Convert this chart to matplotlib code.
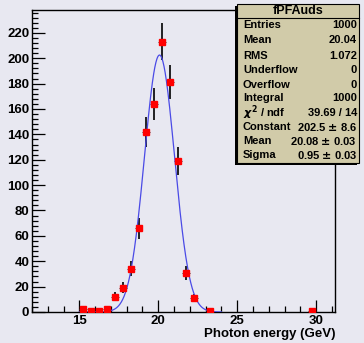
import numpy as np
import matplotlib
matplotlib.use("Agg")
import matplotlib.pyplot as plt
from matplotlib.patches import Rectangle
from matplotlib.ticker import MultipleLocator

plt.rcParams['font.family'] = ['Liberation Sans', 'DejaVu Sans']
plt.rcParams['font.weight'] = 'bold'

# histogram bin centres and counts
centers = [15.25, 15.75, 16.25, 16.75, 17.25, 17.75, 18.25, 18.75, 19.25,
           19.75, 20.25, 20.75, 21.25, 21.75, 22.25, 23.25, 29.75]
counts = [2, 1, 1, 2, 12, 19, 34, 66, 142, 164, 213, 181, 119, 31, 11, 1, 1]

# gaussian fit parameters
fit_const = 202.5
fit_mean = 20.08
fit_sigma = 0.95

stat_labels = ["Entries", "Mean", "RMS", "Underflow", "Overflow", "Integral",
               r"$\chi^2$ / ndf", "Constant", "Mean", "Sigma"]
stat_values = ["1000", "20.04", "1.072", "0", "0", "1000", "39.69 / 14",
               r"202.5 $\pm$ 8.6", r"20.08 $\pm$ 0.03", r"0.95 $\pm$ 0.03"]

W, H = 364, 343
bg = '#e8e8f1'
fig = plt.figure(figsize=(W / 100, H / 100), dpi=100)
fig.patch.set_facecolor(bg)
ax = fig.add_axes([32 / W, 1 - 312 / H, (335 - 32) / W, (312 - 10) / H])
ax.set_facecolor(bg)

c = np.array(counts, dtype=float)
ax.errorbar(centers, counts, xerr=0.25, fmt='none',
            ecolor='#333333', elinewidth=0.7, capsize=0, zorder=2)
ax.errorbar(centers, counts, yerr=np.sqrt(c), fmt='none',
            ecolor='black', elinewidth=1.2, capsize=0, zorder=2)
ax.plot(centers, counts, 's', color='red', markersize=3.8, zorder=4)

xs = np.linspace(15.0, 24.0, 400)
ax.plot(xs, fit_const * np.exp(-0.5 * ((xs - fit_mean) / fit_sigma) ** 2),
        color='#4a4ae6', lw=0.9, zorder=3)

ax.set_xlim(12, 31.2)
ax.set_ylim(0, 238)
ax.xaxis.set_major_locator(MultipleLocator(5))
ax.xaxis.set_minor_locator(MultipleLocator(1))
ax.yaxis.set_major_locator(MultipleLocator(20))
ax.yaxis.set_minor_locator(MultipleLocator(4))
ax.tick_params(which='both', direction='in', top=False, right=False,
               labelsize=9.5, width=0.9, pad=2)
ax.tick_params(which='major', length=9)
ax.tick_params(which='minor', length=4.5)
for lab in ax.get_xticklabels() + ax.get_yticklabels():
    lab.set_fontweight('bold')
for s in ax.spines.values():
    s.set_linewidth(1)
ax.set_xlabel("Photon energy (GeV)", fontsize=9.5, fontweight='bold',
              loc='right', labelpad=1)

# stats box
bx0, by0, bx1, by1 = 237, 4, 359, 163
fig.patches.append(Rectangle((bx0 / W - 2 / W, 1 - by1 / H - 2 / H),
                             (bx1 - bx0) / W, (by1 - by0) / H,
                             transform=fig.transFigure, facecolor='black',
                             edgecolor='none', zorder=5))
fig.patches.append(Rectangle((bx0 / W, 1 - by1 / H), (bx1 - bx0) / W,
                             (by1 - by0) / H, transform=fig.transFigure,
                             facecolor='#d1cba9', edgecolor='black', lw=0.8,
                             zorder=6))
fig.lines.append(plt.Line2D([bx0 / W, bx1 / W], [1 - 18 / H, 1 - 18 / H],
                            transform=fig.transFigure, color='black', lw=0.8,
                            zorder=7))
fig.text((bx0 + bx1) / 2 / W, 1 - 11 / H, "fPFAuds", ha='center', va='center',
         fontsize=9, fontweight='bold', zorder=8)
row_y = [25, 40, 56, 70, 85, 98, 113, 127, 141, 155]
for y, lab, val in zip(row_y, stat_labels, stat_values):
    fig.text(243 / W, 1 - y / H, lab, ha='left', va='center', fontsize=8,
             fontweight='bold', zorder=8)
    fig.text(357 / W, 1 - y / H, val, ha='right', va='center', fontsize=8,
             fontweight='bold', zorder=8)

fig.savefig('out.png', dpi=100, facecolor=bg)
